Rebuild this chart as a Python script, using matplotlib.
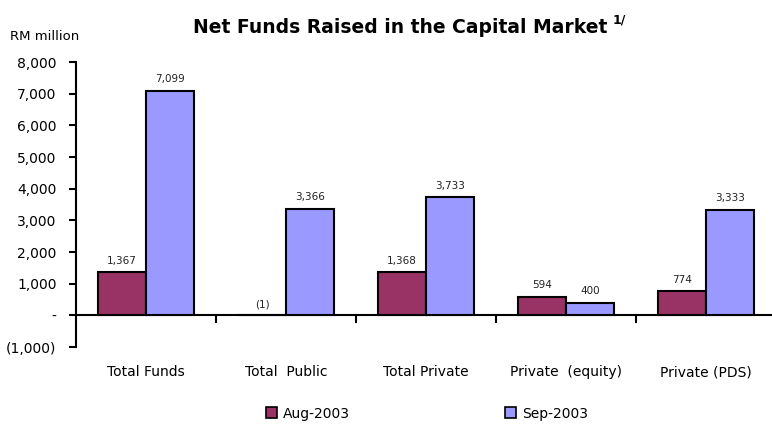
import numpy as np
import matplotlib.pyplot as plt
from matplotlib.patches import Patch
from matplotlib.ticker import FuncFormatter

# Net funds raised, RM million
categories = ['Total Funds', 'Total  Public', 'Total Private', 'Private  (equity)', 'Private (PDS)']
aug_2003 = [1367, -1, 1368, 594, 774]
sep_2003 = [7099, 3366, 3733, 400, 3333]
series_names = ['Aug-2003', 'Sep-2003']

aug_color = '#993366'
sep_color = '#9999FF'

fig = plt.figure(figsize=(7.72, 4.25), dpi=100)
ax = fig.add_axes([76 / 772, 0.1835, 700 / 772, 0.6706])

x = np.arange(len(categories))
w = 0.343
ax.bar(x - w / 2, aug_2003, w, color=aug_color, edgecolor='black', linewidth=1.5)
ax.bar(x + w / 2, sep_2003, w, color=sep_color, edgecolor='black', linewidth=1.5)


def fmt(v):
    if v < 0:
        return '({:,.0f})'.format(-v)
    if v == 0:
        return '-'
    return '{:,.0f}'.format(v)


# value labels above each bar
for i in range(len(categories)):
    for off, vals in ((-w / 2, aug_2003), (w / 2, sep_2003)):
        v = vals[i]
        ax.text(x[i] + off, max(v, 0) + 200, fmt(v), ha='center', va='bottom',
                fontsize=7.5, color='#222222')

ax.set_xlim(-0.5, len(categories) - 0.5)
ax.set_ylim(-1000, 8000)
ax.set_yticks(np.arange(-1000, 8001, 1000))
ax.yaxis.set_major_formatter(FuncFormatter(lambda v, p: fmt(v)))
ax.tick_params(axis='y', direction='out', length=5, width=1.5, labelsize=10, pad=9)

for s in ['top', 'right', 'bottom']:
    ax.spines[s].set_visible(False)
ax.spines['left'].set_linewidth(1.5)

# zero line with category separators
ax.axhline(0, color='black', linewidth=1.5, zorder=0)
ax.set_xticks([])
for b in np.arange(0.5, len(categories) - 0.5, 1):
    ax.plot([b, b], [0, -200], color='black', linewidth=1.5, clip_on=False)

for i, c in enumerate(categories):
    ax.text(x[i], -1790, c, ha='center', va='center', fontsize=10)

fig.text(0.013, 0.913, 'RM million', fontsize=9.5, ha='left', va='center')
fig.text(0.518, 0.935, 'Net Funds Raised in the Capital Market', fontsize=13.5,
         fontweight='bold', ha='center', va='center')
fig.text(0.793, 0.952, '1/', fontsize=9, fontweight='bold', ha='left', va='center')

handles = [Patch(facecolor=aug_color, edgecolor='black', linewidth=1.2),
           Patch(facecolor=sep_color, edgecolor='black', linewidth=1.2)]
fig.legend(handles, series_names, loc='center', bbox_to_anchor=(0.553, 0.027), ncol=2,
           frameon=False, fontsize=10, handlelength=0.8, handleheight=0.8,
           handletextpad=0.4, columnspacing=11.2)

fig.savefig('out.png', dpi=100)
